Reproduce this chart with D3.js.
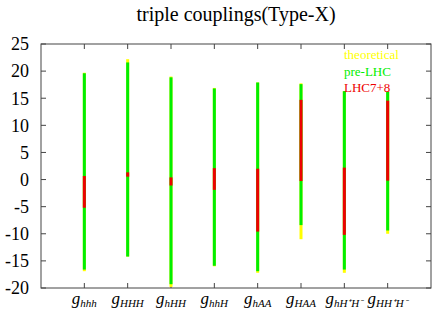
<!DOCTYPE html>
<html>
<head>
<meta charset="utf-8">
<script src="https://cdn.jsdelivr.net/npm/d3@7"></script>
<style>
  body { margin: 0; background: #fff; }
</style>
</head>
<body>
<div id="chart"></div>
<script>
// couplings on the x axis, subscript part of each g label
const categories = ['hhh', 'HHH', 'hHH', 'hhH', 'hAA', 'HAA', 'hH⁺H⁻', 'HH⁺H⁻'];

// allowed ranges [low, high] per coupling
const theoretical = [[-16.9, 19.7], [-14.2, 22.2], [-19.8, 19.0], [-16.0, 16.9],
                     [-17.2, 17.9], [-11.0, 17.75], [-17.2, 16.3], [-10.0, 16.2]];
const preLHC = [[-16.6, 19.6], [-14.2, 21.6], [-19.3, 18.85], [-15.9, 16.8],
                [-16.9, 17.9], [-8.4, 17.6], [-16.6, 16.3], [-9.4, 16.2]];
const lhc78 = [[-5.2, 0.65], [0.53, 1.33], [-1.1, 0.4], [-1.9, 2.1],
               [-9.6, 2.0], [-0.27, 14.7], [-10.2, 2.2], [-0.2, 14.55]];

const yTicks = [25, 20, 15, 10, 5, 0, -5, -10, -15, -20];
const legendItems = [
    { name: 'theoretical', color: '#ffff00' },
    { name: 'pre-LHC', color: '#00ee00' },
    { name: 'LHC7+8', color: '#ee0000' }
];

const FONT = "'Liberation Serif', 'Times New Roman', Times, serif";
const W = 436, H = 310;
const margin = { top: 44, right: 5, bottom: 22, left: 41 };
const width = W - margin.left - margin.right;
const height = H - margin.top - margin.bottom;

const svg = d3.select('#chart').append('svg')
    .attr('width', W).attr('height', H)
    .attr('font-family', FONT);

svg.append('text')
    .attr('x', 236).attr('y', 21)
    .attr('text-anchor', 'middle')
    .attr('font-family', FONT)
    .attr('font-size', 20)
    .text('triple couplings(Type-X)');

const g = svg.append('g').attr('transform', `translate(${margin.left},${margin.top})`);

const x = d3.scaleLinear().domain([0, categories.length + 1]).range([0, width]);
const y = d3.scaleLinear().domain([-20, 25]).range([height, 0]);

const tickLen = 5;
const axisColor = '#444';

// inward ticks on all four sides
const xPos = categories.map((c, i) => i + 1);
g.selectAll('.xt-b').data(xPos).join('line')
    .attr('x1', d => x(d)).attr('x2', d => x(d))
    .attr('y1', height).attr('y2', height - tickLen)
    .attr('stroke', axisColor);
g.selectAll('.xt-t').data(xPos).join('line')
    .attr('x1', d => x(d)).attr('x2', d => x(d))
    .attr('y1', 0).attr('y2', tickLen)
    .attr('stroke', axisColor);
g.selectAll('.yt-l').data(yTicks).join('line')
    .attr('x1', 0).attr('x2', tickLen)
    .attr('y1', d => y(d)).attr('y2', d => y(d))
    .attr('stroke', axisColor);
g.selectAll('.yt-r').data(yTicks).join('line')
    .attr('x1', width).attr('x2', width - tickLen)
    .attr('y1', d => y(d)).attr('y2', d => y(d))
    .attr('stroke', axisColor);

g.selectAll('.ylab').data(yTicks).join('text')
    .attr('x', -12).attr('y', d => y(d))
    .attr('dy', '0.35em')
    .attr('text-anchor', 'end')
    .attr('font-family', FONT)
    .attr('font-size', 18)
    .text(d => d);

// category labels: italic g with subscript
const xl = g.selectAll('.xlab').data(categories).join('text')
    .attr('x', (d, i) => x(i + 1))
    .attr('y', height + 16)
    .attr('text-anchor', 'middle')
    .attr('font-family', FONT)
    .attr('font-style', 'italic');
xl.append('tspan').attr('font-size', 17).text('g');
xl.append('tspan').attr('dy', 3).attr('font-size', 11).text(d => d);

// bars, widest range underneath
const layers = [
    { data: theoretical, color: legendItems[0].color },
    { data: preLHC, color: legendItems[1].color },
    { data: lhc78, color: legendItems[2].color }
];
const barW = 3;
layers.forEach(layer => {
    g.append('g').selectAll('rect').data(layer.data).join('rect')
        .attr('x', (d, i) => x(i + 1) - barW / 2)
        .attr('width', barW)
        .attr('y', d => y(d[1]))
        .attr('height', d => y(d[0]) - y(d[1]))
        .attr('fill', layer.color);
});

// frame
g.append('rect')
    .attr('width', width).attr('height', height)
    .attr('fill', 'none').attr('stroke', axisColor);

// legend
svg.selectAll('.leg').data(legendItems).join('text')
    .attr('x', 344)
    .attr('y', (d, i) => 59 + i * 16.5)
    .attr('font-family', FONT)
    .attr('font-size', 13)
    .attr('fill', d => d.color)
    .text(d => d.name);
</script>
</body>
</html>
